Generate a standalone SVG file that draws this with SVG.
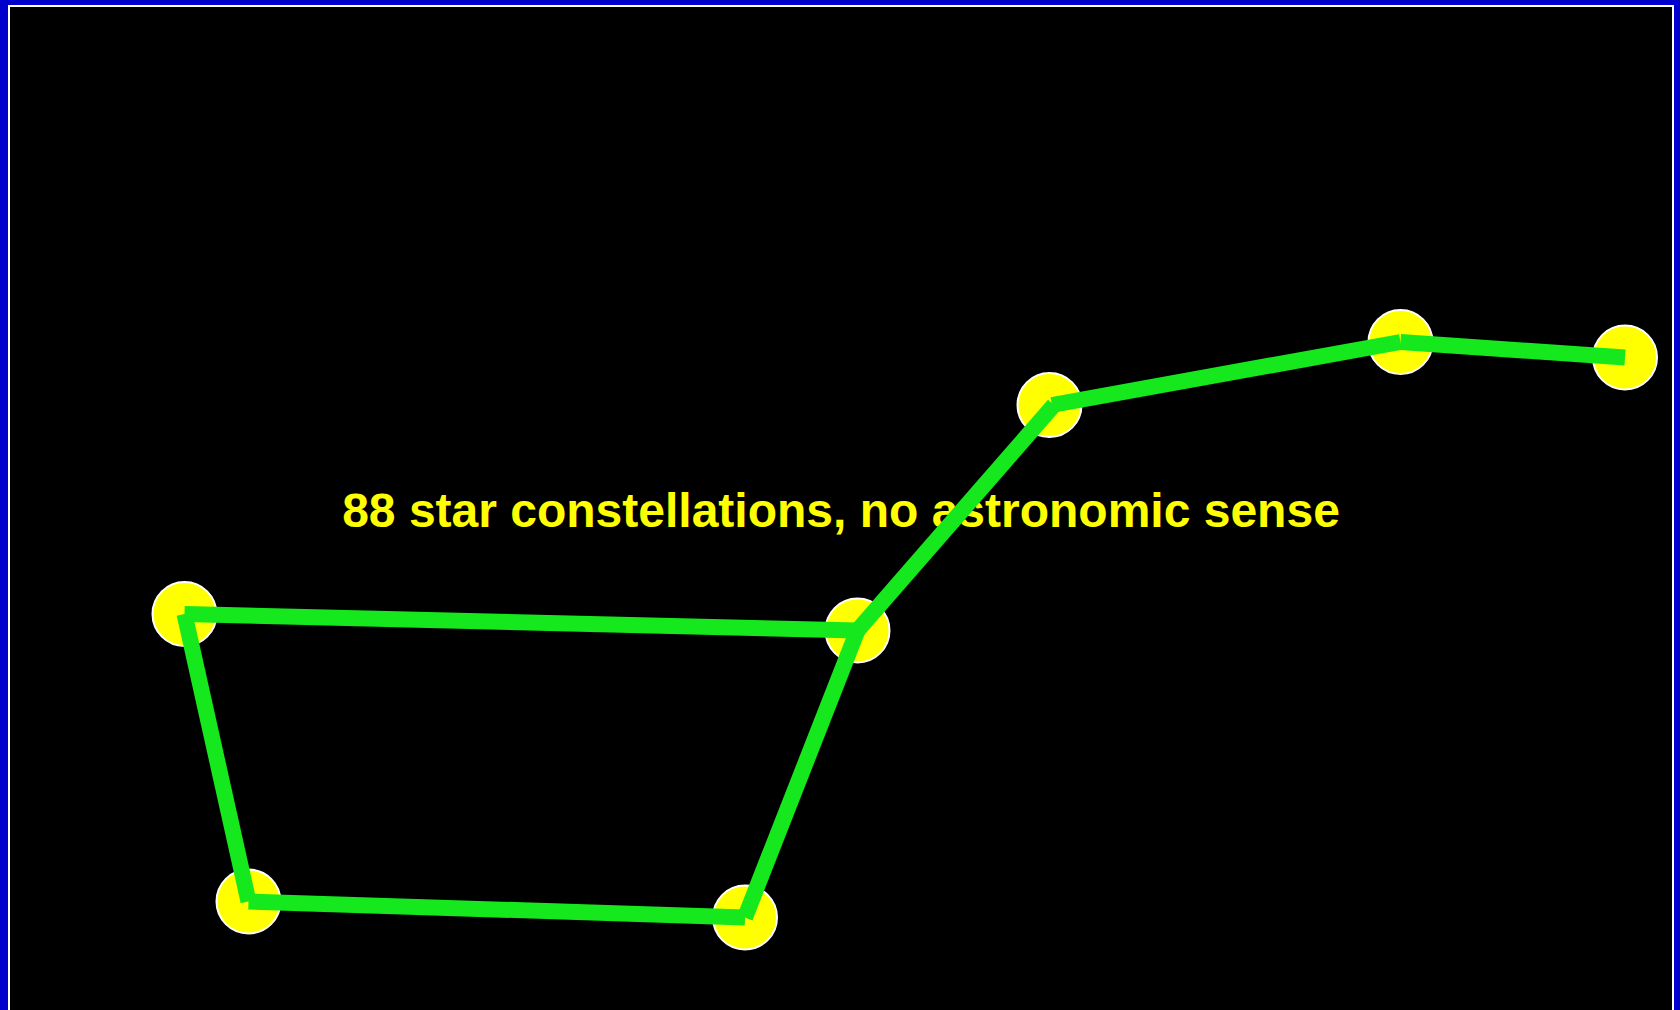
<svg xmlns="http://www.w3.org/2000/svg" width="1680" height="1010" viewBox="0 0 1680 1010">
<style>
.star{fill:#ffff00;stroke:#ffffff;stroke-width:2}
.link{stroke:#16e81e;stroke-width:16;stroke-linecap:butt}
.title{font-family:"Liberation Sans",Arial,sans-serif;font-weight:bold;font-size:48px;fill:#ffff00}
</style>
<rect x="0" y="0" width="1680" height="1010" fill="#0000cc"/>
<rect x="9" y="6" width="1664" height="1100" fill="#000000" stroke="#ffffff" stroke-width="2"/>
<text class="title" x="841" y="527" text-anchor="middle">88 star constellations, no astronomic sense</text>
<g id="stars">
<g id="star1"><circle class="star" cx="184.5" cy="614" r="32"/></g>
<g id="star2"><circle class="star" cx="248.5" cy="901.5" r="32"/></g>
<g id="star3"><circle class="star" cx="745" cy="917.5" r="32"/></g>
<g id="star4"><circle class="star" cx="857.5" cy="630.5" r="32"/></g>
<g id="star5"><circle class="star" cx="1049.5" cy="405" r="32"/></g>
<g id="star6"><circle class="star" cx="1400.5" cy="342" r="32"/></g>
<g id="star7"><circle class="star" cx="1625" cy="357.5" r="32"/></g>
</g>
<g id="connectors">
<line class="link" x1="184.5" y1="614" x2="248.5" y2="901.5"/>
<line class="link" x1="248.5" y1="901.5" x2="745" y2="917.5"/>
<line class="link" x1="745" y1="917.5" x2="857.5" y2="630.5"/>
<line class="link" x1="184.5" y1="614" x2="857.5" y2="630.5"/>
<line class="link" x1="857.5" y1="630.5" x2="1054" y2="405"/>
<line class="link" x1="1052" y1="405" x2="1400.5" y2="342"/>
<line class="link" x1="1400.5" y1="342" x2="1625" y2="357.5"/>
</g>
</svg>
